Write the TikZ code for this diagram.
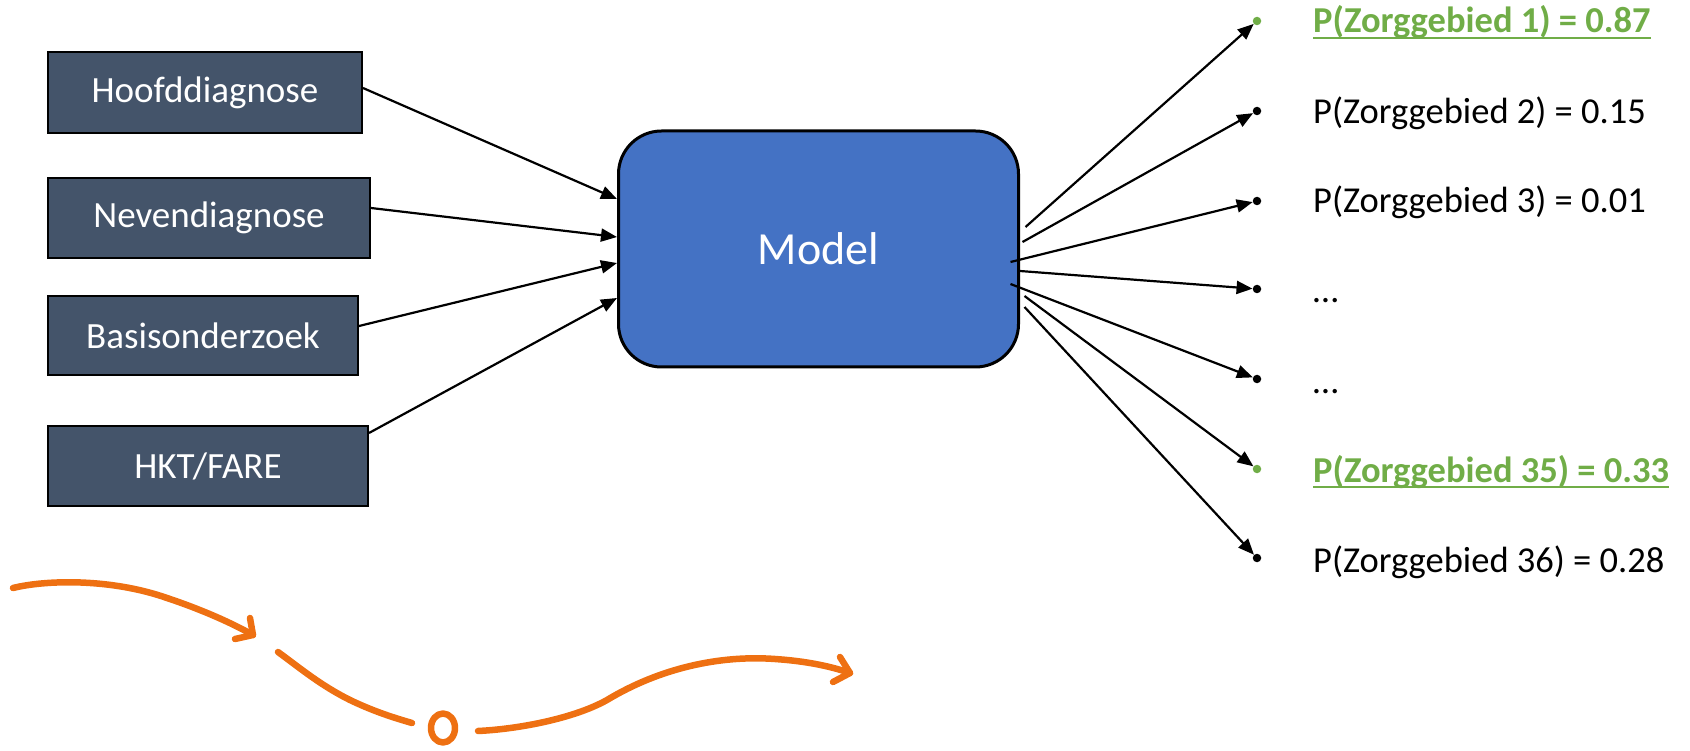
\documentclass[tikz,border=0pt]{standalone}
\usepackage{fontspec}
\setmainfont{Carlito}
\usetikzlibrary{arrows.meta,calc}
\definecolor{boxfill}{HTML}{44546A}
\definecolor{modelfill}{HTML}{4472C4}
\definecolor{hlgreen}{HTML}{70AD47}
\definecolor{penorange}{HTML}{EE7012}
\begin{document}
\begin{tikzpicture}[x=1pt,y=-1pt,
  inbox/.style={draw=black, line width=2pt, fill=boxfill, text=white, font=\fontsize{37}{42}\selectfont, inner sep=0pt},
  conn/.style={line width=2.2pt, -{Triangle[length=16pt,width=13pt]}},
  dot/.style={circle, fill=black, inner sep=0pt, minimum size=8.5pt},
  gdot/.style={circle, fill=hlgreen, inner sep=0pt, minimum size=8.5pt},
  prob/.style={anchor=base west, inner sep=0pt, font=\fontsize{36.5}{40}\selectfont},
  gprob/.style={prob, text=hlgreen, font=\fontsize{36.5}{40}\selectfont\bfseries},
  uline/.style={hlgreen, line width=2pt},
  pen/.style={draw=penorange, line width=6.5pt, line cap=round, line join=round}
]
\useasboundingbox (0,0) rectangle (1690,751);

% input boxes
\node[inbox, minimum width=314pt, minimum height=81pt] (h) at (205,92.5) {Hoofddiagnose};
\node[inbox, minimum width=322pt, minimum height=80pt] (n) at (209,218) {Nevendiagnose};
\node[inbox, minimum width=310pt, minimum height=79pt] (b) at (203,335.5) {Basisonderzoek};
\node[inbox, minimum width=320pt, minimum height=80pt] (k) at (208,466) {HKT/FARE};

% model
\node[draw=black, line width=3pt, fill=modelfill, rounded corners=43pt, minimum width=400pt, minimum height=236pt, inner sep=0pt, text=white, font=\fontsize{46}{52}\selectfont] (m) at (818.5,249) {Model};

% input connectors
\draw[conn] ([yshift=4.5pt]h.east) -- ([yshift=50pt]m.west);
\draw[conn] ([yshift=10pt]n.east) -- ([yshift=12pt]m.west);
\draw[conn] ([yshift=9.5pt]b.east) -- ([yshift=-14pt]m.west);
\draw[conn] ([yshift=33pt]k.east) -- ([yshift=-49pt]m.west);

% bullets
\node[gdot] (d1) at (1257,21) {};
\node[dot] (d2) at (1257,111) {};
\node[dot] (d3) at (1257,201) {};
\node[dot] (d4) at (1257,289) {};
\node[dot] (d5) at (1257,379) {};
\node[gdot] (d6) at (1257,469) {};
\node[dot] (d7) at (1257,558) {};

% texts
\node[gprob] (t1) at (1313,33) {P(Zorggebied 1) = 0.87};
\node[prob] (t2) at (1313,124) {P(Zorggebied 2) = 0.15};
\node[prob] (t3) at (1313,213) {P(Zorggebied 3) = 0.01};
\node[prob] (t4) at (1313,303) {…};
\node[prob] (t5) at (1313,393) {…};
\node[gprob] (t6) at (1313,482) {P(Zorggebied 35) = 0.33};
\node[prob] (t7) at (1313,572) {P(Zorggebied 36) = 0.28};
\draw[uline] ([yshift=-5pt]t1.base west) -- ([yshift=-5pt]t1.base east);
\draw[uline] ([yshift=-5pt]t6.base west) -- ([yshift=-5pt]t6.base east);

% output connectors
\coordinate (s1) at ([shift={(5.5pt,22pt)}]m.east);
\coordinate (s2) at ([shift={(2.5pt,7pt)}]m.east);
\coordinate (s3) at ([shift={(-9.5pt,-13pt)}]m.east);
\coordinate (s4) at ([shift={(0pt,-22pt)}]m.east);
\coordinate (s5) at ([shift={(-9.5pt,-35pt)}]m.east);
\coordinate (s6) at ([shift={(4.5pt,-47pt)}]m.east);
\coordinate (s7) at ([shift={(4.5pt,-58pt)}]m.east);
\draw[conn] (s1) -- (d1);
\draw[conn] (s2) -- (d2);
\draw[conn] (s3) -- (d3);
\draw[conn] (s4) -- (d4);
\draw[conn] (s5) -- (d5);
\draw[conn] (s6) -- (d6);
\draw[conn] (s7) -- (d7);

% orange hand-drawn path
\draw[pen] (13,588) .. controls (45,580) and (110,578) .. (167,598) .. controls (200,609) and (230,622) .. (253,635);
\draw[pen] (250,618) -- (253,635) -- (235,639);
\draw[pen] (278,652) .. controls (300,668) and (320,685) .. (350,700) .. controls (375,712) and (395,718) .. (412,723);
\draw[pen] (443,728) ellipse (12pt and 14.5pt);
\draw[pen] (478,731) .. controls (520,729) and (575,718) .. (607,700) .. controls (660,668) and (720,655) .. (775,659) .. controls (805,661) and (830,666) .. (850,673);
\draw[pen] (840,657) -- (850,673) -- (833,682);
\end{tikzpicture}
\end{document}
